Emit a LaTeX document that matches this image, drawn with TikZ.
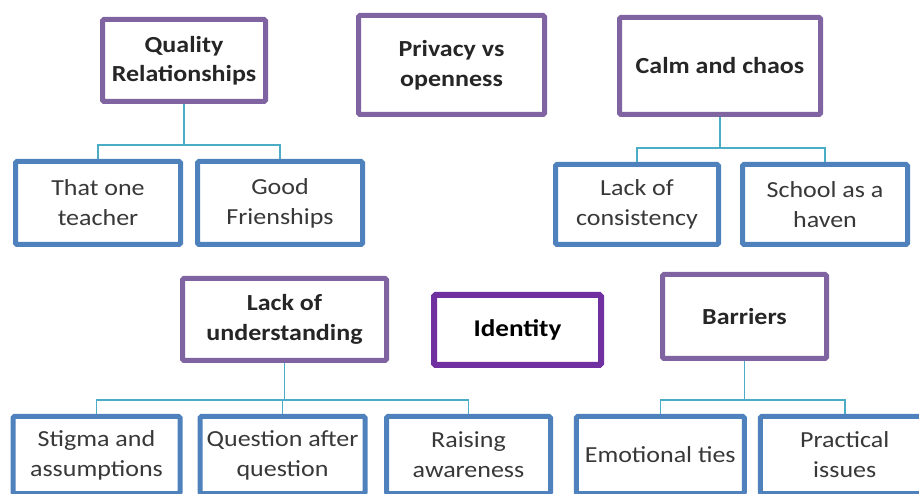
\documentclass[tikz,border=0pt]{standalone}
\usepackage{fontspec}
\setmainfont{Carlito}[FakeStretch=1.13]
\usetikzlibrary{trees}
\definecolor{purpleb}{HTML}{8064A2}
\definecolor{violetb}{HTML}{7030A0}
\definecolor{blueb}{HTML}{4F81BD}
\definecolor{aquab}{HTML}{4BACC6}
\tikzset{
    mynodep/.style = {rectangle, line width=5pt, draw=purpleb, rounded corners=1.5pt, align=center, fill=white, inner sep=2pt, font=\bfseries\fontsize{23}{29.5}\selectfont, text=black!85},
    mynodev/.style = {rectangle, line width=6pt, draw=violetb, rounded corners=1.5pt, align=center, fill=white, inner sep=2pt, font=\bfseries\fontsize{24}{29}\selectfont, text=black},
    mynodeb/.style = {rectangle, line width=5pt, draw=blueb, rounded corners=1.5pt, align=center, fill=white, inner sep=2pt, font=\fontsize{23}{30}\selectfont, text=black!78},
    edgea/.style = {-, line width=1.5pt, aquab, rounded corners=0pt}
}

\begin{document}
\begin{tikzpicture}[
  x=1pt, y=1pt,
  parent anchor=south, child anchor=north,
  edge from parent/.style={draw, edgea},
  edge from parent path={(\tikzparentnode\tikzparentanchor) |- ([yshift=14pt]\tikzchildnode\tikzchildanchor) -- (\tikzchildnode\tikzchildanchor)}]
  \useasboundingbox (0,0) rectangle (919,493);
  \clip (0,0) rectangle (919,493);
  % top row
  \node[mynodep, minimum width=163pt, minimum height=82pt] (qual) at (184,432.5) {Quality\\Relationships}
    [level distance=142.5pt, sibling distance=182pt]
    child[xshift=5pt] {node[mynodeb, minimum width=165pt, minimum height=83pt] (teacher) {That one\\teacher}}
    child[xshift=5pt] {node[mynodeb, minimum width=165pt, minimum height=83pt] (friends) {Good\\Frienships}};
  \node[mynodep, minimum width=186pt, minimum height=99pt] (privacy) at (451.5,428) {Privacy vs\\openness};
  \node[mynodep, minimum width=201pt, minimum height=97pt] (calm) at (720,427) {Calm and chaos}
    [level distance=138.5pt, sibling distance=188pt]
    child[xshift=11pt] {node[mynodeb, minimum width=163pt, minimum height=80pt] (consist) {Lack of\\consistency}}
    child[xshift=11pt] {node[mynodeb, minimum width=165pt, minimum height=80pt] (haven) {School as a\\haven}};
  % bottom row
  \node[mynodep, minimum width=204pt, minimum height=82pt] (underst) at (284.5,173.5) {Lack of\\understanding}
    [level distance=135.5pt, sibling distance=186pt]
    child[xshift=-2pt] {node[mynodeb, minimum width=167pt, minimum height=77pt] (stigma) {Stigma and\\assumptions}}
    child[xshift=-2pt] {node[mynodeb, minimum width=165pt, minimum height=77pt] (question) {Question after\\question}}
    child[xshift=-2pt] {node[mynodeb, minimum width=164pt, minimum height=77pt] (aware) {Raising\\awareness}};
  \node[mynodev, minimum width=167pt, minimum height=70pt] (identity) at (517.5,163) {Identity};
  \node[mynodep, minimum width=164pt, minimum height=84pt] (barriers) at (744.5,176.5) {Barriers}
    [level distance=138.5pt, sibling distance=184.5pt]
    child[xshift=8pt] {node[mynodeb, minimum width=168pt, minimum height=77pt] (ties) {Emotional ties}}
    child[xshift=8pt] {node[mynodeb, minimum width=169pt, minimum height=77pt] (practical) {Practical\\issues}};
\end{tikzpicture}
\end{document}
